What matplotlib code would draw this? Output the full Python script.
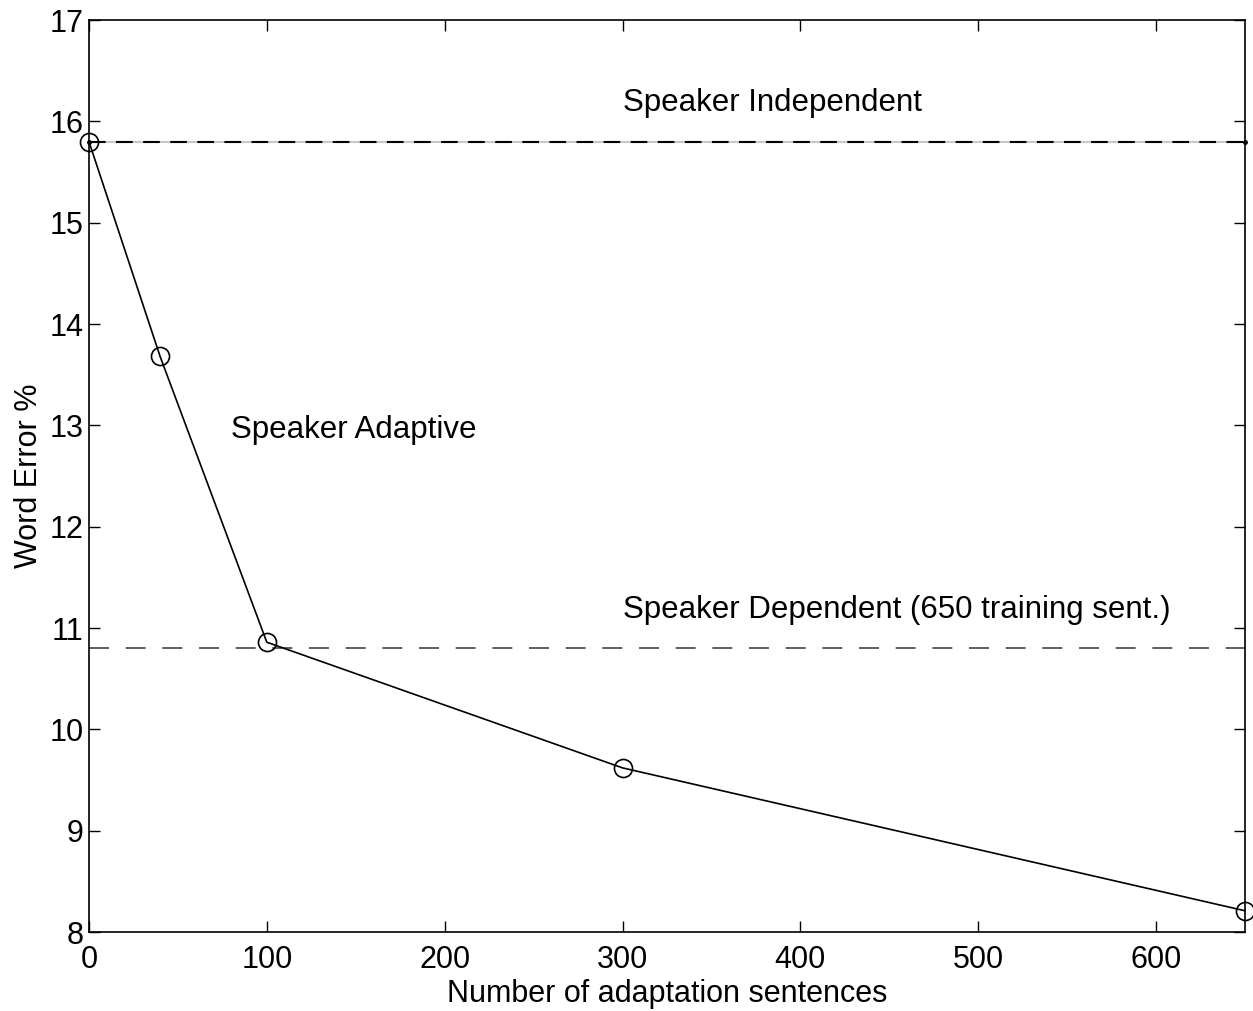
import matplotlib
matplotlib.use('Agg')
import matplotlib.pyplot as plt

plt.rcParams['font.family'] = ['Liberation Sans', 'DejaVu Sans']

# adaptation data
n_sent = [0, 40, 100, 300, 650]
word_err = [15.8, 13.68, 10.86, 9.62, 8.21]

si_err = 15.8   # speaker independent
sd_err = 10.8   # speaker dependent
x_range = [0, 650]

fig = plt.figure(figsize=(12.53, 10.11), dpi=100)
ax = fig.add_axes([0.071, 0.0781, 0.9226, 0.9021])

# speaker independent: light gray solid + black dashes
ax.plot(x_range, [si_err, si_err], '-', color='#c8c8c8', lw=1.5)
ax.plot(x_range, [si_err, si_err], '--', color='black', lw=1.5,
        dashes=(8, 5), marker='.', markersize=5, clip_on=False)
# speaker dependent
ax.plot(x_range, [sd_err, sd_err], '--', color='#444444', lw=1.2, dashes=(12, 10))
# speaker adaptive
ax.plot(n_sent, word_err, '-o', color='black', lw=1.2, clip_on=False,
        markersize=13, markerfacecolor='none', markeredgewidth=1.2)

ax.text(300, 16.18, 'Speaker Independent', fontsize=22.5, va='center')
ax.text(80, 12.95, 'Speaker Adaptive', fontsize=22.5, va='center')
ax.text(300, 11.18, 'Speaker Dependent (650 training sent.)', fontsize=22.5, va='center')

ax.set_xlim(0, 650)
ax.set_ylim(8, 17)
ax.set_xticks([0, 100, 200, 300, 400, 500, 600])
ax.set_yticks(range(8, 18))
ax.tick_params(direction='in', length=8, width=1, labelsize=22, pad=4,
               top=True, right=True)
ax.tick_params(axis='x', pad=9)
ax.set_xlabel('Number of adaptation sentences', fontsize=22, labelpad=3)
ax.set_ylabel('Word Error %', fontsize=22, labelpad=4)
for s in ax.spines.values():
    s.set_linewidth(1.2)

fig.savefig('out.png', dpi=100)
